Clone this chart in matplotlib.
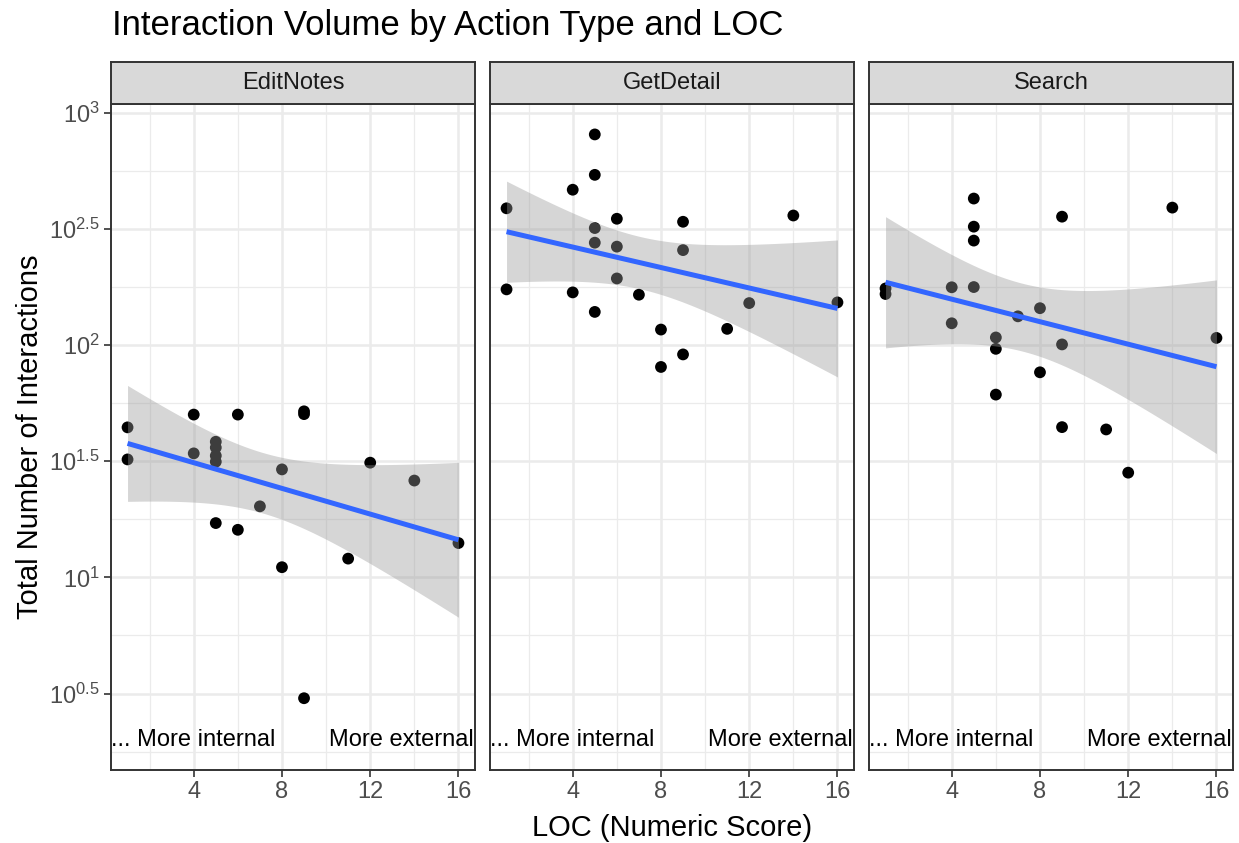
import numpy as np
import matplotlib
matplotlib.use("Agg")
import matplotlib.pyplot as plt

plt.rcParams['font.family'] = ['Liberation Sans', 'DejaVu Sans']
plt.rcParams['mathtext.fontset'] = 'custom'
plt.rcParams['mathtext.rm'] = 'Liberation Sans'
plt.rcParams['mathtext.it'] = 'Liberation Sans:italic'

# ---- data (log10 of total interactions) ----
panels = ["EditNotes", "GetDetail", "Search"]

edit_x = [1, 1, 4, 4, 5, 5, 5, 5, 5, 6, 6, 7, 8, 8, 9, 9, 9, 11, 12, 14, 16]
edit_log = [1.646, 1.508, 1.701, 1.534, 1.584, 1.559, 1.524, 1.498, 1.234,
            1.701, 1.205, 1.306, 1.465, 1.044, 1.715, 1.703, 0.480,
            1.081, 1.494, 1.417, 1.148]

get_x = [1, 1, 4, 4, 5, 5, 5, 5, 5, 6, 6, 6, 7, 8, 8, 9, 9, 9, 11, 12, 14, 16]
get_log = [2.589, 2.240, 2.669, 2.227, 2.907, 2.733, 2.504, 2.441, 2.143,
           2.544, 2.424, 2.287, 2.217, 2.067, 1.906, 2.531, 2.409, 1.960,
           2.070, 2.181, 2.558, 2.184]

search_x = [1, 1, 4, 4, 5, 5, 5, 5, 6, 6, 6, 7, 8, 8, 9, 9, 9, 11, 12, 14, 16]
search_log = [2.244, 2.220, 2.249, 2.094, 2.631, 2.510, 2.450, 2.250,
              2.033, 1.984, 1.787, 2.124, 2.159, 1.883, 2.553, 2.003, 1.647,
              1.637, 1.451, 2.592, 2.031]

panel_x = [edit_x, get_x, search_x]
panel_y = [[10 ** v for v in edit_log], [10 ** v for v in get_log],
           [10 ** v for v in search_log]]

x_ticks = [4, 8, 12, 16]
y_tick_exps = [0.5, 1, 1.5, 2, 2.5, 3]
y_tick_labels = [r"$10^{0.5}$", r"$10^{1}$", r"$10^{1.5}$", r"$10^{2}$",
                 r"$10^{2.5}$", r"$10^{3}$"]
annot_left = "... More internal"
annot_right = "More external"
annot_y = 2

title = "Interaction Volume by Action Type and LOC"
xlabel = "LOC (Numeric Score)"
ylabel = "Total Number of Interactions"

T975 = {17: 2.110, 18: 2.101, 19: 2.093, 20: 2.086, 21: 2.080, 22: 2.074}

# ---- figure ----
W, H = 1239, 843
fig = plt.figure(figsize=(W / 100, H / 100), dpi=100)

lefts = [111, 490, 869]
pw = 364
top_px, bot_px = 104, 770
strip_h = 42

ylo, yhi = 10 ** 0.171, 10 ** 3.038
xlo, xhi = 0.25, 16.75

grid_major = "#EBEBEB"
border = "#333333"
tick_col = "#4D4D4D"

for i, name in enumerate(panels):
    ax = fig.add_axes([lefts[i] / W, 1 - bot_px / H, pw / W, (bot_px - top_px) / H])
    ax.set_yscale("log")
    ax.set_xlim(xlo, xhi)
    ax.set_ylim(ylo, yhi)
    ax.set_facecolor("white")

    # gridlines
    for xm in [2, 6, 10, 14]:
        ax.axvline(xm, color=grid_major, lw=0.9, zorder=0)
    for xm in x_ticks:
        ax.axvline(xm, color=grid_major, lw=1.8, zorder=0)
    for e in [0.25, 0.75, 1.25, 1.75, 2.25, 2.75]:
        ax.axhline(10 ** e, color=grid_major, lw=0.9, zorder=0)
    for e in y_tick_exps:
        ax.axhline(10 ** e, color=grid_major, lw=1.8, zorder=0)

    xs = np.array(panel_x[i], dtype=float)
    ly = np.log10(np.array(panel_y[i]))
    ax.scatter(xs, 10 ** ly, s=72, color="black", edgecolors="none", zorder=2)

    # linear smooth on log scale with 95% CI
    n = len(xs)
    xbar = xs.mean()
    sxx = ((xs - xbar) ** 2).sum()
    b = ((xs - xbar) * (ly - ly.mean())).sum() / sxx
    a = ly.mean() - b * xbar
    resid = ly - (a + b * xs)
    s = np.sqrt((resid ** 2).sum() / (n - 2))
    xg = np.linspace(xs.min(), xs.max(), 80)
    fit = a + b * xg
    se = s * np.sqrt(1 / n + (xg - xbar) ** 2 / sxx)
    t = T975.get(n - 2, 2.09)
    ax.fill_between(xg, 10 ** (fit - t * se), 10 ** (fit + t * se),
                    color="#999999", alpha=0.4, lw=0, zorder=3)
    ax.plot(xg, 10 ** fit, color="#3366FF", lw=3.6, zorder=4,
            solid_capstyle="butt")

    ax.text(xlo, annot_y, annot_left, ha="left", va="center", fontsize=17,
            color="black", clip_on=True, zorder=5)
    ax.text(xhi - 0.05, annot_y, annot_right, ha="right", va="center",
            fontsize=17, color="black", clip_on=True, zorder=5)

    ax.set_xticks(x_ticks)
    ax.set_xticklabels([str(v) for v in x_ticks])
    ax.xaxis.set_minor_locator(matplotlib.ticker.NullLocator())
    ax.yaxis.set_minor_locator(matplotlib.ticker.NullLocator())
    ax.set_yticks([10 ** e for e in y_tick_exps])
    if i == 0:
        ax.set_yticklabels(y_tick_labels)
    else:
        ax.set_yticklabels([])
    ax.tick_params(axis="both", length=5, width=1.2, color=border,
                   labelsize=17, labelcolor=tick_col, pad=3)
    if i != 0:
        ax.tick_params(axis="y", length=0)
    for sp in ax.spines.values():
        sp.set_color(border)
        sp.set_linewidth(1.4)
        sp.set_zorder(6)

    # strip
    sax = fig.add_axes([lefts[i] / W, 1 - top_px / H, pw / W, strip_h / H])
    sax.set_facecolor("#D9D9D9")
    sax.set_xticks([])
    sax.set_yticks([])
    for sp in sax.spines.values():
        sp.set_color(border)
        sp.set_linewidth(1.4)
    sax.text(0.5, 0.5, name, ha="center", va="center", fontsize=17,
             color="#1A1A1A", transform=sax.transAxes)

fig.text(112 / W, 1 - 25 / H, title, ha="left", va="center", fontsize=25,
         color="black")
fig.text((111 + 1233) / 2 / W, 1 - 828 / H, xlabel, ha="center", va="center",
         fontsize=21, color="black")
fig.text(30 / W, 1 - (104 + 770) / 2 / H, ylabel, ha="center", va="center",
         rotation=90, fontsize=21, color="black")

fig.savefig("out.png", dpi=100, facecolor="white")
